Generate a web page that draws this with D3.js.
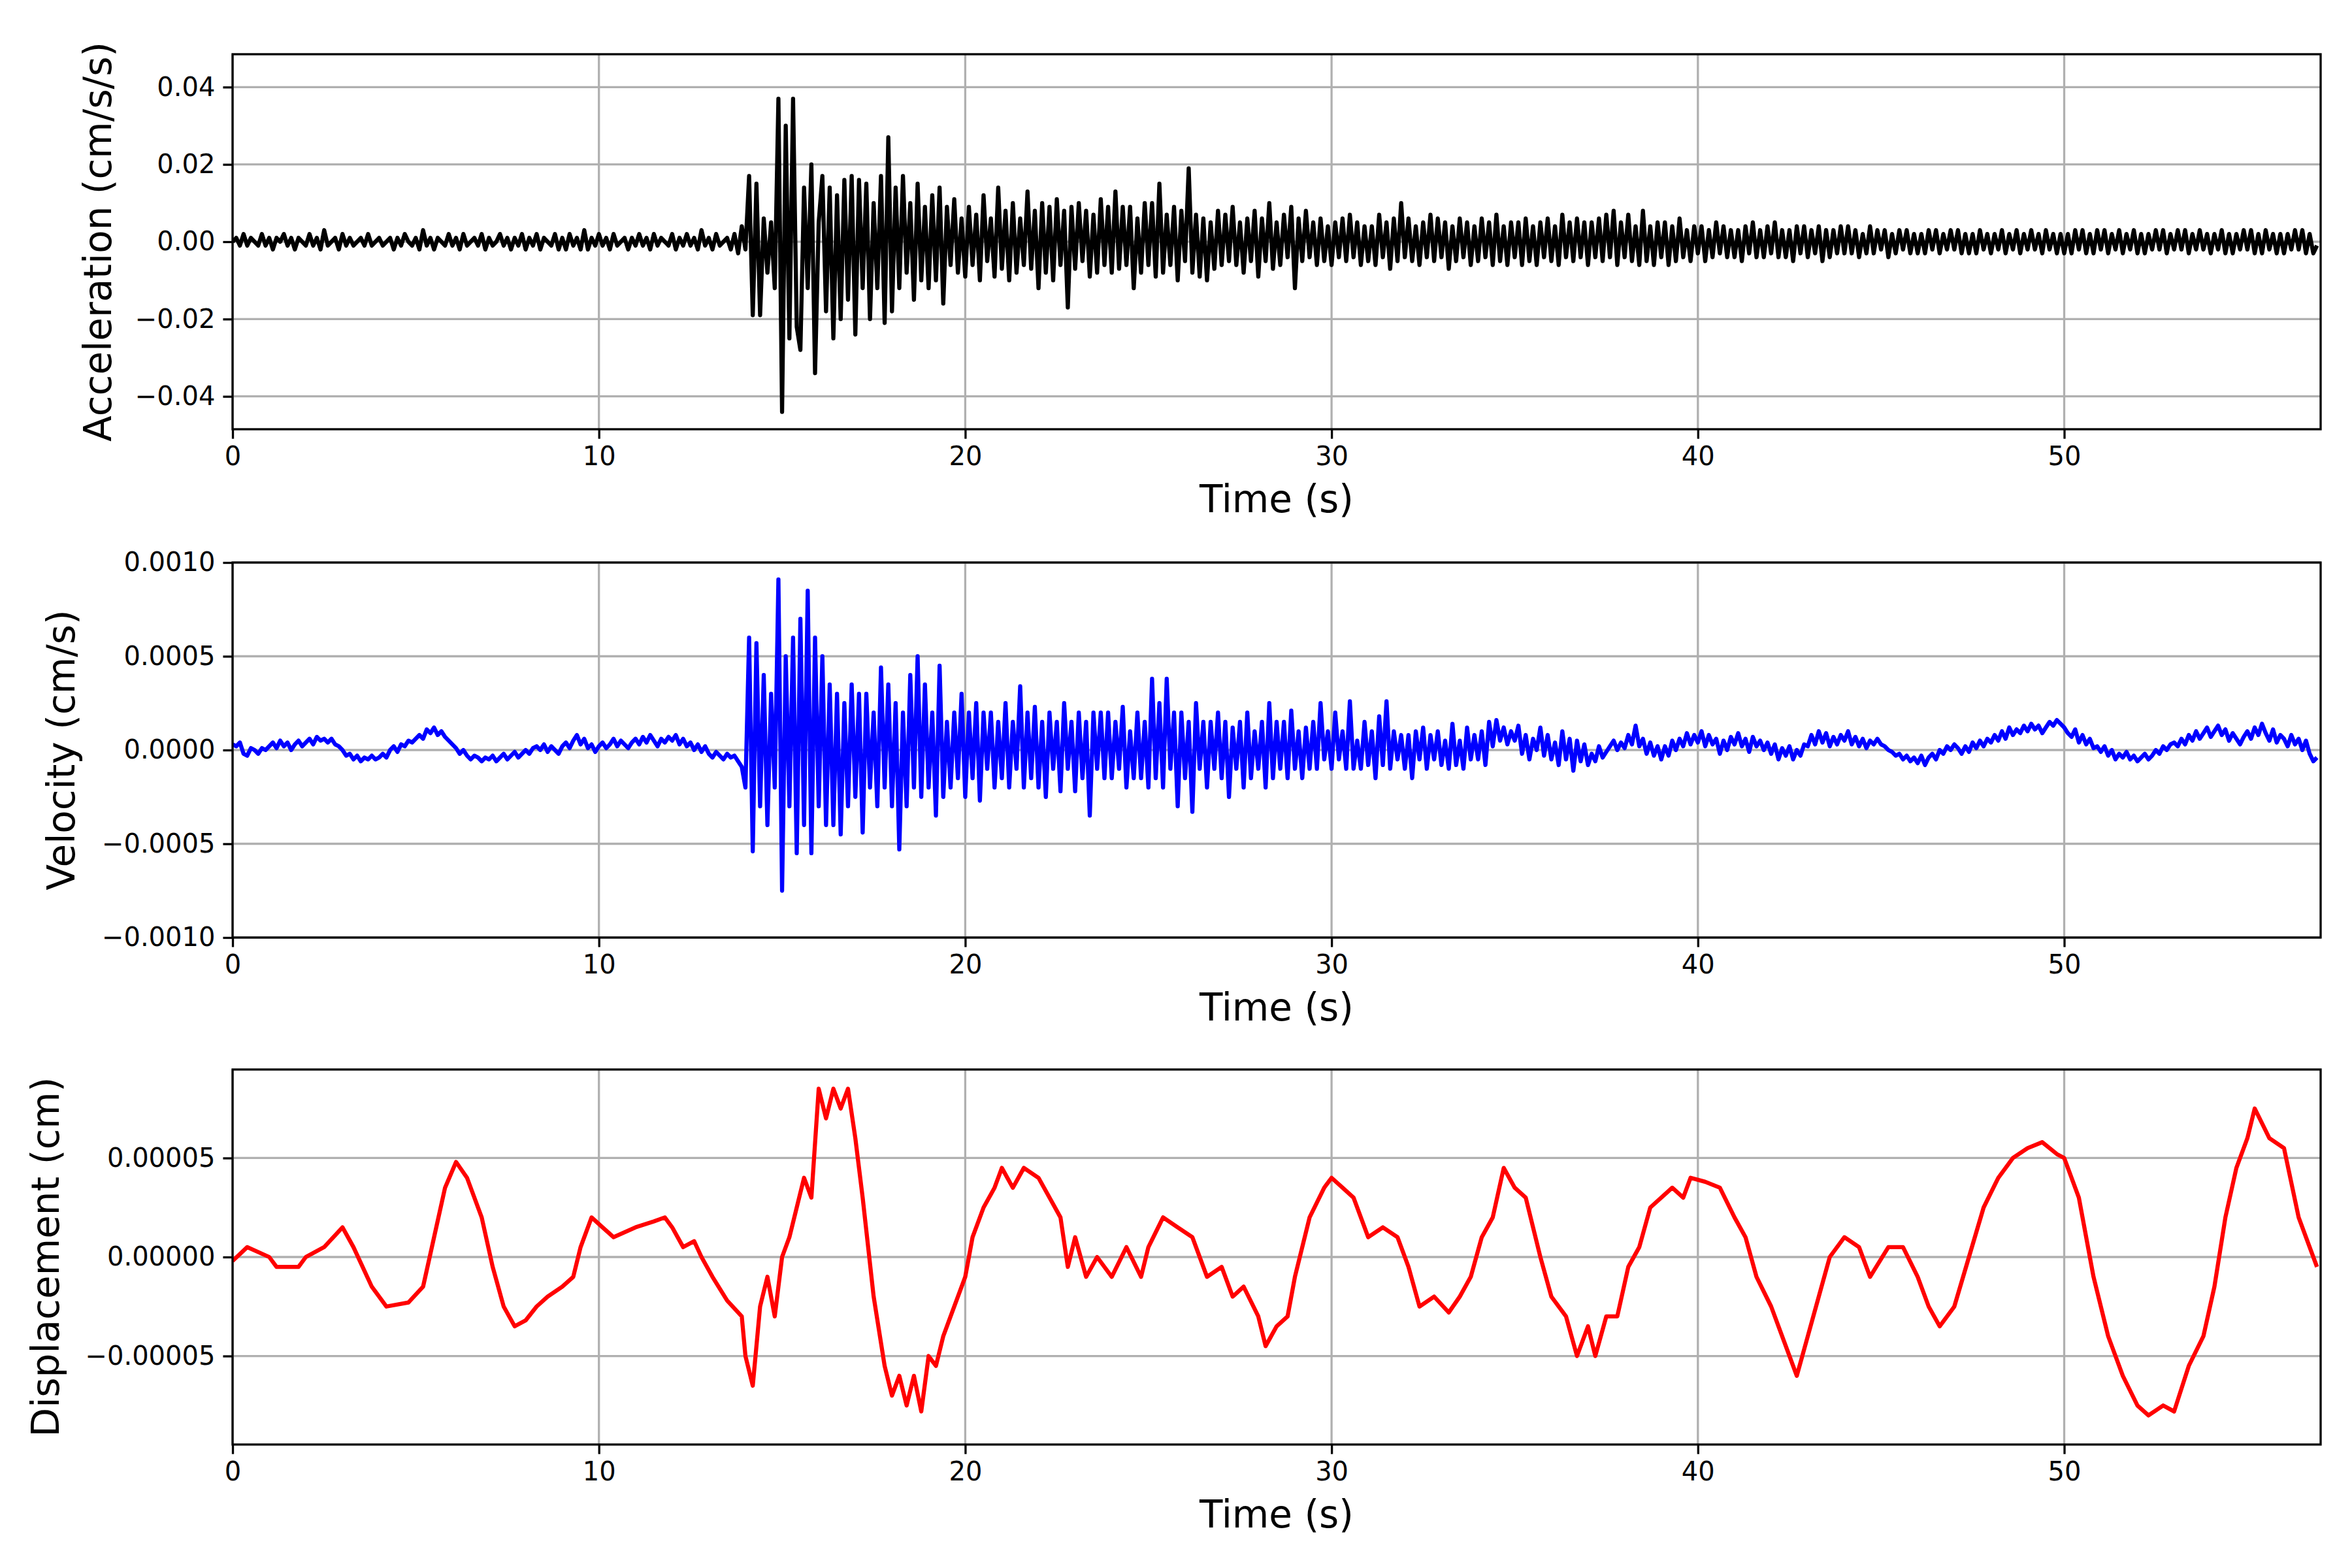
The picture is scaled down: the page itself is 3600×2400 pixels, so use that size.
<!DOCTYPE html>
<html>
<head>
<meta charset="utf-8">
<script src="https://cdn.jsdelivr.net/npm/d3@7"></script>
<style>
body { margin: 0; background: #fff; }
text { font-family: "DejaVu Sans", sans-serif; }
</style>
</head>
<body>
<svg id="chart" width="3600" height="2400"></svg>
<script>
// sample step of acceleration and velocity records (s)
const dt = 0.1

// acceleration, units of 0.001 cm/s/s, one row per second
const accRaw = [
	0,1,-1,2,-1,1,0,-1,2,-1, 1,-2,1,0,2,-1,1,-2,1,0, -1,2,-1,1,-2,3,-1,0,1,-2,
	2,-1,1,-1,0,1,-1,2,-1,0, 1,-1,0,1,-2,1,-1,2,0,-1, 1,-2,3,-1,1,-2,1,0,-1,2,
	-1,1,-2,2,-1,0,1,-1,2,-2, 1,-1,0,2,-1,1,-2,1,-1,2, -2,1,-1,2,-2,1,0,-1,2,-2,
	1,-2,2,-1,1,-2,3,-2,1,-1, 2,-1,1,-2,2,-1,0,1,-2,1, -1,2,-1,1,-2,2,-1,1,0,-1,
	2,-2,1,-1,2,-1,1,-2,3,-1, 1,-2,2,-1,0,1,-2,2,-3,4, -2,17,-19,15,-19,6,-8,5,-12,37,
	-44,30,-25,37,-22,-28,14,-12,20,-34, 5,17,-18,14,-25,12,-20,16,-15,17, -24,16,-12,15,-20,10,-12,17,-21,27,
	-18,14,-12,17,-8,10,-15,15,-10,9, -12,12,-10,14,-16,9,-6,11,-8,6, -9,9,-6,7,-10,12,-5,6,-9,14,
	-7,8,-10,10,-8,6,-6,13,-7,8, -12,10,-8,9,-10,11,-6,8,-17,9, -7,10,-5,8,-9,7,-8,11,-6,9,
	-8,13,-7,9,-6,9,-12,6,-8,10, -6,10,-9,15,-8,7,-6,9,-10,8, -5,19,-8,7,-9,6,-10,5,-7,8,
	-6,7,-5,9,-6,5,-8,6,-5,8, -9,6,-5,10,-7,5,-6,7,-4,9, -12,6,-5,8,-4,5,-6,6,-5,4,
	-6,5,-4,6,-5,7,-4,5,-6,4, -5,4,-6,7,-4,5,-7,6,-5,10, -4,6,-5,4,-6,5,-4,7,-5,6,
	-4,5,-7,4,-5,6,-4,5,-6,4, -5,6,-4,5,-6,7,-5,4,-6,5, -4,5,-6,6,-5,4,-6,5,-4,6,
	-5,4,-6,7,-4,5,-5,6,-4,5, -6,5,-4,6,-5,7,-4,8,-6,5, -4,7,-5,4,-6,8,-5,4,-6,5,
	-4,5,-6,4,-5,6,-4,3,-5,4, -3,4,-5,3,-4,5,-3,4,-4,3, -4,3,-5,4,-3,5,-4,3,-4,4,
	-3,5,-4,3,-4,3,-5,4,-3,4, -4,3,-3,4,-5,3,-4,3,-3,4, -3,4,-3,3,-4,2,-3,4,-3,3,
	-2,3,-4,2,-3,3,-2,3,-3,2, -3,2,-3,3,-2,3,-3,2,-2,3, -2,3,-3,2,-3,2,-3,3,-2,2,
	-3,2,-2,3,-3,2,-2,3,-3,2, -2,3,-2,2,-3,3,-2,2,-3,2, -3,2,-3,3,-2,3,-3,2,-3,3,
	-2,3,-3,2,-2,3,-3,2,-2,3, -3,2,-3,2,-2,3,-2,3,-3,2, -2,3,-2,3,-3,2,-2,3,-2,2,
	-3,2,-2,3,-3,2,-3,2,-2,3, -2,3,-3,2,-3,3,-2,2,-3,2, -3,2,-2,3,-2,3,-3,2,-3,-1
]

// velocity, units of 0.0001 cm/s
const velRaw = [
	0.3,0.2,0.4,-0.2,-0.3,0.1,0,-0.2,0.1,0, 0.2,0.4,0.1,0.5,0.2,0.4,0,0.3,0.5,0.2,
	0.4,0.6,0.3,0.7,0.5,0.6,0.4,0.6,0.3,0.2, 0,-0.3,-0.2,-0.5,-0.3,-0.6,-0.4,-0.5,-0.3,-0.5,
	-0.4,-0.2,-0.4,0,0.2,-0.1,0.3,0.2,0.5,0.4, 0.6,0.8,0.6,1.1,0.9,1.2,0.8,1.0,0.7,0.5,
	0.3,0.1,-0.2,0,-0.3,-0.5,-0.3,-0.4,-0.6,-0.4, -0.5,-0.3,-0.6,-0.4,-0.2,-0.5,-0.3,-0.1,-0.4,-0.2,
	0,-0.2,0.1,0.2,0,0.3,-0.1,0.2,0,-0.2, 0.2,0.4,0.1,0.5,0.8,0.3,0.6,0.1,0.3,-0.1,
	0.2,0.4,0.1,0.3,0.6,0.2,0.5,0.3,0.1,0.4, 0.6,0.3,0.7,0.4,0.8,0.5,0.2,0.6,0.4,0.7,
	0.5,0.8,0.3,0.6,0.2,0.4,0,0.3,-0.1,0.2, -0.2,-0.4,-0.1,-0.3,-0.5,-0.2,-0.4,-0.3,-0.6,-0.9,
	-2,6,-5.4,5.7,-3,4,-4,3,-2,9.1, -7.5,5,-3,6,-5.5,7,-4,8.5,-5.5,6,
	-3,5,-4,3.5,-4,3,-4.5,2.5,-3,3.5, -2.5,3,-4.4,3,-2,2,-3,4.4,-2,3.5,
	-3,2.5,-5.3,2,-3,4,-2,5,-2.5,3.5, -2,2,-3.5,4.5,-2.5,1.5,-2,2,-1.5,3,
	-2.5,2,-1.5,2.5,-2.7,2,-1,2,-2,1.5, -1.5,2.5,-2,1.5,-1,3.4,-2,2,-1.5,2.3,
	-2,1.5,-2.5,2,-1,1.5,-2.2,2.5,-1,1.5, -2.2,2,-1.5,1.5,-3.5,2,-1,2,-1.5,2,
	-1.5,1.5,-1,2.3,-2,1,-1.5,2,-1.5,1.5, -2,3.8,-1.5,2.5,-2,3.8,-1,2,-3,2,
	-1.5,1.5,-3.3,2.5,-1,1.5,-2,1.5,-1,2, -1.5,1.5,-2.5,1.2,-1,1.5,-2,2,-1.5,1,
	-1,1.5,-2,2.5,-1.5,1.5,-1,1.5,-1.5,2.1, -1,1,-1.5,1.2,-1,1.5,-1,2.5,-0.5,1,
	-1,2,-0.5,1,-1,2.6,-1,0.5,-1,1.5, -0.8,1,-1.5,1.8,-0.8,2.6,-1,1,-0.5,0.8,
	-1,0.8,-1.5,1,-0.5,1.2,-1,0.8,-0.5,1, -0.8,0.5,-1,1.4,-0.8,0.5,-1,1.2,-0.5,0.8,
	-0.5,1,-0.8,1.5,0.2,1.6,0.5,1.2,0.3,1, 0.5,1.3,-0.2,0.8,-0.5,0.6,0,1.2,-0.3,0.8,
	-0.5,0.4,-0.8,1,-0.5,0.6,-1.1,0.5,-0.6,0.3, -0.8,-0.2,-0.6,0.2,-0.4,-0.1,0.2,0.5,0,0.4,
	0.1,0.8,0.3,1.3,0.2,0.6,-0.2,0.4,-0.3,0.2, -0.5,0.2,-0.3,0.5,0,0.6,0.2,0.9,0.3,0.8,
	0.4,1,0.2,0.8,0.3,0.6,-0.2,0.5,0,0.7, 0.3,0.9,0.2,0.6,-0.1,0.7,0.2,0.5,0,0.4,
	-0.2,0.3,-0.5,0.1,-0.3,0.2,-0.5,0,-0.3,0.3, 0.2,0.8,0.3,1,0.4,0.9,0.2,0.7,0.3,0.8,
	0.5,1,0.3,0.7,0.2,0.6,0.1,0.5,0.3,0.6, 0.3,0.2,0,-0.1,-0.3,-0.2,-0.5,-0.3,-0.6,-0.4,
	-0.7,-0.3,-0.8,-0.4,-0.2,-0.5,0,-0.2,0.2,0, 0.3,0.1,-0.2,0.2,-0.1,0.4,0.1,0.5,0.2,0.6,
	0.4,0.8,0.5,1,0.6,1.2,0.8,1.1,0.9,1.3, 1,1.4,1.1,1.3,0.9,1.2,1.5,1.3,1.6,1.4,
	1.2,0.9,0.7,1.1,0.4,0.8,0.3,0.6,0.1,0.2, -0.1,0.2,-0.3,0,-0.5,-0.2,-0.4,-0.1,-0.5,-0.3,
	-0.6,-0.4,-0.2,-0.5,-0.3,0,-0.2,0.2,0,0.3, 0.4,0.2,0.6,0.3,0.8,0.5,1,0.6,0.9,1.2,
	0.7,1,1.3,0.8,1.1,0.5,0.9,0.6,0.3,0.7, 1.0,0.6,1.2,0.8,1.4,0.9,0.5,1.1,0.4,0.8,
	0.6,0.2,0.8,0.3,0.6,0,0.5,-0.2,-0.6,-0.4
]

// displacement, units of 1e-6 cm, read at these times (s)
const dispT = [0,0.4,1,1.2,1.8,2,2.5,3,3.3,3.8,4.2,4.8,5.2,5.5,5.8,6.1,6.4,6.8,7.1,7.4,7.7,8,8.3,8.6,9,9.3,9.5,9.8,10.1,10.4,11,11.5,11.8,12,12.3,12.6,12.8,13.1,13.5,13.9,14,14.2,14.4,14.6,14.8,15,15.2,15.4,15.6,15.8,16,16.2,16.4,16.6,16.8,17,17.2,17.5,17.8,18,18.2,18.4,18.6,18.8,19,19.2,19.4,19.6,20,20.2,20.5,20.8,21,21.3,21.6,22,22.3,22.6,22.8,23,23.3,23.6,24,24.4,24.8,25,25.4,25.8,26.2,26.6,27,27.3,27.6,28,28.2,28.5,28.8,29,29.4,29.8,30,30.3,30.6,31,31.4,31.8,32.1,32.4,32.8,33.2,33.5,33.8,34.1,34.4,34.7,35,35.3,35.7,36,36.4,36.7,37,37.2,37.5,37.8,38.1,38.4,38.7,39,39.3,39.6,39.8,40.2,40.6,41,41.3,41.6,42,42.4,42.7,43,43.3,43.6,44,44.4,44.7,45.2,45.6,46,46.3,46.6,47,47.4,47.8,48.2,48.6,49,49.4,49.8,50,50.4,50.8,51.2,51.6,52,52.3,52.7,53,53.4,53.8,54.1,54.4,54.7,55,55.2,55.6,56,56.4,56.7,56.9]
const dispV = [-2,5,0,-5,-5,0,5,15,5,-15,-25,-23,-15,10,35,48,40,20,-5,-25,-35,-32,-25,-20,-15,-10,5,20,15,10,15,18,20,15,5,8,0,-10,-22,-30,-50,-65,-25,-10,-30,0,10,25,40,30,85,70,85,75,85,60,30,-20,-55,-70,-60,-75,-60,-78,-50,-55,-40,-30,-10,10,25,35,45,35,45,40,30,20,-5,10,-10,0,-10,5,-10,5,20,15,10,-10,-5,-20,-15,-30,-45,-35,-30,-10,20,35,40,35,30,10,15,10,-5,-25,-20,-28,-20,-10,10,20,45,35,30,0,-20,-30,-50,-35,-50,-30,-30,-5,5,25,30,35,30,40,38,35,20,10,-10,-25,-45,-60,-40,-20,0,10,5,-10,5,5,-10,-25,-35,-25,0,25,40,50,55,58,52,50,30,-10,-40,-60,-75,-80,-75,-78,-55,-40,-15,20,45,60,75,60,55,20,5,-5]

const accTicks = [-0.04, -0.02, 0, 0.02, 0.04]
const velTicks = [-0.001, -0.0005, 0, 0.0005, 0.001]
const dispTicks = [-0.00005, 0, 0.00005]
const timeTicks = [0, 10, 20, 30, 40, 50]

const acc = accRaw.map((v, i) => [i * dt, v * 1e-3])
const vel = velRaw.map((v, i) => [i * dt, v * 1e-4])
const disp = dispT.map((t, i) => [t, dispV[i] * 1e-6])

const svg = d3.select("#chart")
const left = 356, right = 3552, h = 574

const minus = s => s.replace("-", "\u2212")

function panel(top, data, yDom, ticks, digits, color, label, labelX) {
	let x = d3.scaleLinear().domain([0, 57]).range([left, right])
	let y = d3.scaleLinear().domain(yDom).range([top + h, top])
	let g = svg.append("g")

	// grid
	g.selectAll(".gx").data(timeTicks).enter().append("line")
		.attr("x1", d => x(d)).attr("x2", d => x(d))
		.attr("y1", top).attr("y2", top + h)
		.attr("stroke", "#b0b0b0").attr("stroke-width", 3.3)
	g.selectAll(".gy").data(ticks).enter().append("line")
		.attr("x1", left).attr("x2", right)
		.attr("y1", d => y(d)).attr("y2", d => y(d))
		.attr("stroke", "#b0b0b0").attr("stroke-width", 3.3)

	g.append("defs").append("clipPath").attr("id", "c" + top)
		.append("rect").attr("x", left).attr("y", top).attr("width", right - left).attr("height", h)

	g.append("path")
		.datum(data)
		.attr("clip-path", "url(#c" + top + ")")
		.attr("fill", "none")
		.attr("stroke", color)
		.attr("stroke-width", 6.3)
		.attr("stroke-linejoin", "round")
		.attr("d", d3.line().x(d => x(d[0])).y(d => y(d[1])))

	let xa = g.append("g").attr("transform", "translate(0," + (top + h) + ")")
		.call(d3.axisBottom(x).tickValues(timeTicks).tickSize(14.6).tickPadding(12).tickFormat(d3.format("d")))
	let ya = g.append("g").attr("transform", "translate(" + left + ",0)")
		.call(d3.axisLeft(y).tickValues(ticks).tickSize(14.6).tickPadding(12).tickFormat(d => minus(d.toFixed(digits))))
	for (let a of [xa, ya]) {
		a.select(".domain").remove()
		a.selectAll("line").attr("stroke-width", 3.3)
		a.selectAll("text").attr("font-size", 40).attr("font-family", "DejaVu Sans").attr("fill", "#000")
	}

	g.append("rect").attr("x", left).attr("y", top).attr("width", right - left).attr("height", h)
		.attr("fill", "none").attr("stroke", "#000").attr("stroke-width", 3.3)

	g.append("text").attr("x", (left + right) / 2).attr("y", top + h + 127)
		.attr("text-anchor", "middle").attr("font-size", 58).text("Time (s)")
	g.append("text").attr("transform", "translate(" + labelX + "," + (top + h / 2) + ") rotate(-90)")
		.attr("text-anchor", "middle").attr("dominant-baseline", "central").attr("font-size", 58).text(label)
}

panel(83, acc, [-0.0485, 0.0485], accTicks, 2, "#000", "Acceleration (cm/s/s)", 150)
panel(861, vel, [-0.001, 0.001], velTicks, 4, "#0000ff", "Velocity (cm/s)", 94)
panel(1637, disp, [-0.0000947, 0.0000947], dispTicks, 5, "#ff0000", "Displacement (cm)", 70)
</script>
</body>
</html>
